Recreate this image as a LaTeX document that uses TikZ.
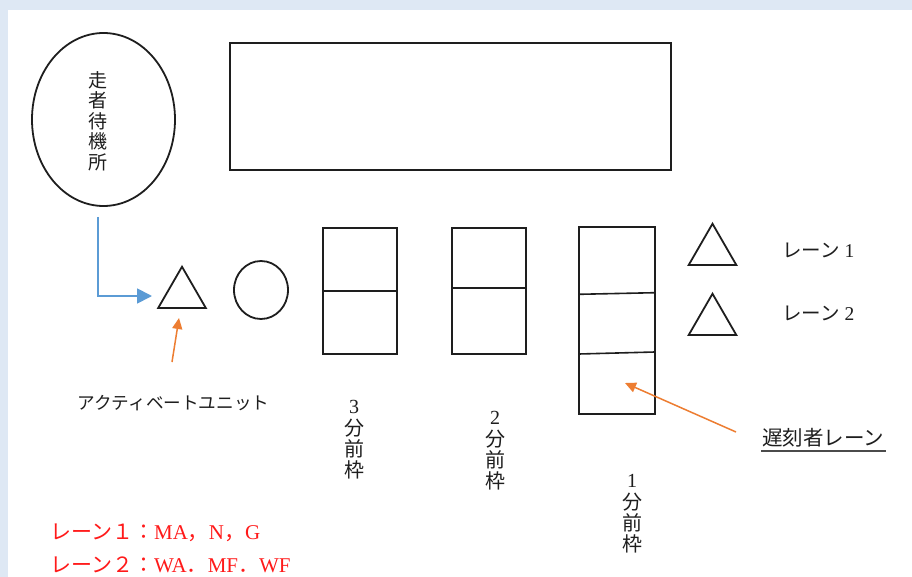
\documentclass[tikz,border=0pt]{standalone}
\usepackage{fontspec}
\setmainfont{Liberation Serif}
\newfontfamily\cjk{Noto Sans CJK JP}
\usetikzlibrary{arrows.meta,shapes.geometric}
\definecolor{pagebg}{HTML}{DEE8F4}
\definecolor{arrowblue}{HTML}{5B9BD5}
\definecolor{arroworange}{HTML}{ED7D31}
\definecolor{inkgray}{HTML}{1E1E1E}
\definecolor{redtext}{HTML}{FF1A1A}
\begin{document}
\begin{tikzpicture}[x=1pt,y=-1pt,
  shapeline/.style={draw=inkgray,line width=1.8pt,inner sep=0pt,outer sep=0pt},
  boxshape/.style={shapeline,rectangle},
  tri/.style={shapeline,regular polygon,regular polygon sides=3,minimum size=55pt},
  divider/.style={draw=inkgray,line width=1.6pt},
  vlabel/.style={inner sep=0pt,align=center,text=inkgray,font=\fontsize{20}{21.3}\selectfont},
  lbl/.style={inner sep=0pt,text=inkgray},
  bluearrow/.style={draw=arrowblue,line width=1.8pt,-{Triangle[length=15pt,width=15pt]}},
  orangearrow/.style={draw=arroworange,line width=1.5pt,-{Triangle[length=11pt,width=10pt]}},
  redlbl/.style={inner sep=0pt,anchor=west,text=redtext,font=\fontsize{21}{24}\selectfont}
]
\useasboundingbox (0,0) rectangle (912,577);
\fill[pagebg] (0,0) rectangle (912,577);
\fill[white] (8,10) rectangle (912,577);

% waiting area
\node[shapeline,ellipse,minimum width=143pt,minimum height=173pt] (wait) at (103.5,119.5) {};
\node[vlabel,font=\cjk\fontsize{19}{20.5}\selectfont] (waittext) at (97.7,121) {走\\者\\待\\機\\所};

% big rectangle
\node[boxshape,minimum width=441pt,minimum height=127pt] (bigbox) at (450.5,106.5) {};

% activate unit
\node[tri] (act) at (182,294.25) {};
\node[shapeline,ellipse,minimum width=54pt,minimum height=58pt] (ring) at (261,290) {};
\node[lbl,font=\cjk\fontsize{17.6}{20}\selectfont] (acttext) at (173.5,403) {アクティベートユニット};

% frames
\node[boxshape,minimum width=74pt,minimum height=126pt] (f3) at (360,291) {};
\draw[divider] (f3.west) -- (f3.east);
\node[boxshape,minimum width=74pt,minimum height=126pt] (f2) at (489,291) {};
\draw[divider] ([yshift=3pt]f2.west) -- ([yshift=3pt]f2.east);
\node[boxshape,minimum width=76pt,minimum height=187pt] (f1) at (617,320.5) {};
\draw[divider] ([yshift=26.2pt]f1.west) -- ([yshift=27.8pt]f1.east);
\draw[divider] ([yshift=-33.5pt]f1.west) -- ([yshift=-31.5pt]f1.east);

\node[vlabel] (f3text) at (354,440) {3\\{\cjk 分}\\{\cjk 前}\\{\cjk 枠}};
\node[vlabel] (f2text) at (495,451) {2\\{\cjk 分}\\{\cjk 前}\\{\cjk 枠}};
\node[vlabel] (f1text) at (632,514) {1\\{\cjk 分}\\{\cjk 前}\\{\cjk 枠}};

% lanes
\node[tri] (lane1) at (712.5,251.25) {};
\node[tri] (lane2) at (712.5,321.25) {};
\node[lbl,anchor=west,font=\fontsize{19.5}{20}\selectfont] (lane1text) at (782,250) {{\cjk レーン} 1};
\node[lbl,anchor=west,font=\fontsize{19.5}{20}\selectfont] (lane2text) at (782,313) {{\cjk レーン} 2};

% late lane label
\node[lbl,anchor=west,font=\cjk\fontsize{20.5}{22}\selectfont] (latetext) at (762,438) {遅刻者レーン};
\draw[draw=inkgray!80,line width=1.8pt] ([xshift=-1pt,yshift=-13pt]latetext.west) -- ([xshift=2pt,yshift=-13pt]latetext.east);

% red legend
\node[redlbl] (legend1) at (50,533) {{\cjk レーン１：}MA{\cjk ，}N{\cjk ，}G};
\node[redlbl] (legend2) at (50,565) {{\cjk レーン２：}WA{\cjk ．}MF{\cjk ．}WF};

% connectors
\coordinate (bluestart) at ([xshift=-5.8pt,yshift=-11pt]wait.south);
\coordinate (bluetip) at (152,296);
\draw[bluearrow] (bluestart) |- (bluetip);
\coordinate (acttail) at (172,362);
\coordinate (acttip) at ([xshift=-3pt,yshift=-10pt]act.south);
\draw[orangearrow] (acttail) -- (acttip);
\coordinate (latetail) at ([xshift=-26pt,yshift=6pt]latetext.west);
\coordinate (latetip) at (625,383);
\draw[orangearrow] (latetail) -- (latetip);
\end{tikzpicture}
\end{document}
